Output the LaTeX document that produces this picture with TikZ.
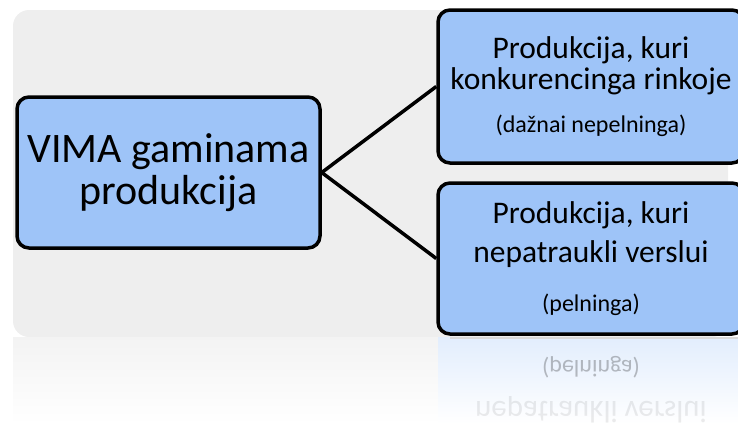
\documentclass[tikz,border=0pt]{standalone}
\usepackage{fontspec}
\setmainfont{Carlito}
\usetikzlibrary{positioning}
\definecolor{boxblue}{RGB}{158,196,248}
\definecolor{bggray}{RGB}{238,238,238}

\begin{document}
\begin{tikzpicture}[x=1pt,y=-1pt,
  box/.style={draw=black, line width=3.5pt, rounded corners=12pt, fill=boxblue, align=center, inner sep=0pt},
  link/.style={draw=black, line width=3.5pt},
  mirror/.style={yscale=-1, transform shape, align=center}]
\useasboundingbox (0,0) rectangle (738,424);

% background panel and its reflection
\fill[bggray, rounded corners=16pt] (13,10) rectangle (728,337);
\shade[top color=bggray!70, bottom color=white] (13,337) rectangle (728,424);
\shade[top color=boxblue!30, bottom color=white] (438,337) rectangle (744,424);
\draw[black!15, line width=1.5pt] (450,338) -- (744,338);

\node[mirror, text opacity=0.25, font=\fontsize{24}{26}\selectfont] (pelnasR) at (591,367) {(pelninga)};
\node[mirror, text opacity=0.08, font=\fontsize{31}{32}\selectfont] (verslasR) at (591,410) {nepatraukli verslui};

% boxes
\node[box, minimum width=303pt, minimum height=151pt, font=\fontsize{42}{42}\selectfont] (vima) at (168.5,172.5) {VIMA gaminama\\produkcija};
\node[box, minimum width=306pt, minimum height=153pt, font=\fontsize{31.5}{31}\selectfont] (rinka) at (591,86.5)
  {Produkcija, kuri\\konkurencinga rinkoje\\[12pt]{\fontsize{24}{26}\selectfont (dažnai nepelninga)}};
\node[box, minimum width=306pt, minimum height=151pt, font=\fontsize{31.5}{39}\selectfont] (verslas) at (591,258.5)
  {Produkcija, kuri\\nepatraukli verslui\\[10pt]{\fontsize{24}{26}\selectfont (pelninga)}};

% links
\draw[link] (vima.east) -- (rinka.west);
\draw[link] (vima.east) -- (verslas.west);
\end{tikzpicture}
\end{document}
